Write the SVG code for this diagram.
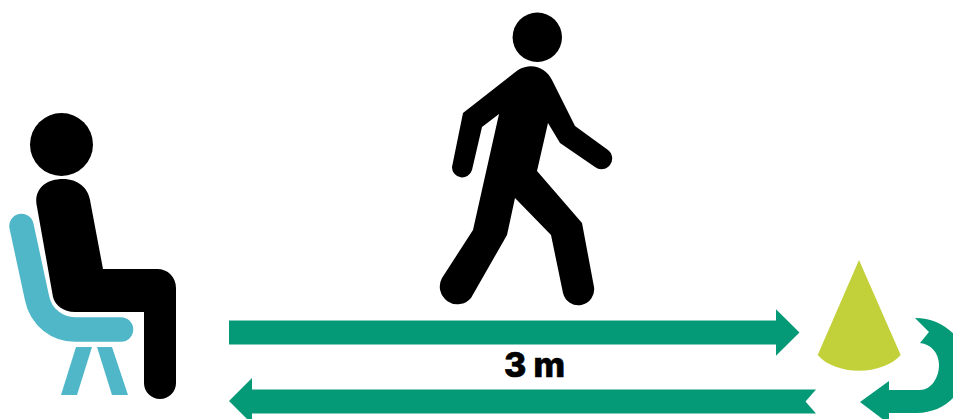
<svg xmlns="http://www.w3.org/2000/svg" width="953" height="419" viewBox="0 0 953 419">
<style>
.ink{fill:#000}
.chair{fill:#4fb7c8}
.arrow{fill:#059a77}
.label{font-family:Inter,"Liberation Sans",Arial,sans-serif;font-weight:800;font-size:34px;fill:#000;stroke:#000;stroke-width:.7px}
</style>
<rect width="953" height="419" fill="#fff"/>
<g id="seated-person">
<circle class="ink" cx="61.5" cy="144.5" r="31.5"/>
<path class="ink" d="M37 207C33 190 45 179 63 179C78 179 88 188 90 200L103 269H157C168 269 176 277 176 288V383A16 16 0 0 1 144 383V312H75C63 312 55 305 53 297Z"/>
</g>
<g id="chair">
<path d="M21.5 226L37 298C41 318 58 329.5 75 329.5H121" fill="none" stroke="#4fb7c8" stroke-width="24.5" stroke-linecap="round"/>
<polygon class="chair" points="76,347 92,347 77,395 61,395"/>
<polygon class="chair" points="97,347 112,347 128,395 112,395"/>
</g>
<g id="walking-person">
<circle class="ink" cx="537.3" cy="37.3" r="24.7"/>
<path class="ink" d="M518 70C532 62 546 68 552 80L575 126L608 150A10.7 10.7 0 0 1 595 167L560 143L548 123L537 171L582 223L594 287A15.8 15.8 0 0 1 563 293L551 235L515 198L507 235L471 298A17.7 17.7 0 0 1 442 278L473 230L499 114L482 127L472 170A10.2 10.2 0 0 1 452 167L463 113Z"/>
</g>
<g id="cone">
<path d="M859 260L900.7 355C892 365 876 370.7 859 370.7C842 370.7 826 365 817.7 355Z" fill="#c2d13a"/>
</g>
<g id="connectors">
<polygon class="arrow" points="229,320.5 776,320.5 776,309.3 799.5,332.5 776,355.7 776,344.5 229,344.5"/>
<polygon class="arrow" points="816,389.5 805.5,401.5 816,413.5 252,413.5 252,424 229,401 252,378 252,389.5"/>
<path class="arrow" d="M860 402L889 381V390H920C931 390 939 378 939 365C939 353 931 344 920 343L929 332L915 318C943 318 966 338 966 365C966 392 945 413 917 413H889V424Z"/>
</g>
<g id="distance-label">
<text class="label" x="504" y="377">3<tspan x="533.5">m</tspan></text>
</g>
</svg>
